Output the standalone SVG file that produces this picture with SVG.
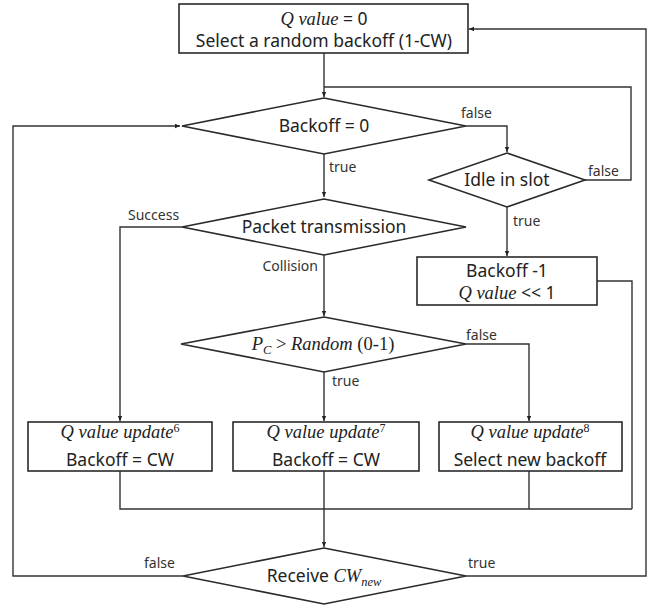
<svg xmlns="http://www.w3.org/2000/svg" width="651" height="605" viewBox="0 0 651 605">
<style>
.shape{fill:#fff;stroke:#2a2a2a;stroke-width:1.6}
.ln{fill:none;stroke:#333;stroke-width:1.4}
.arr{marker-end:url(#ah)}
.t{font-family:"Noto Sans","Liberation Sans",sans-serif;font-size:17.5px;fill:#222;text-anchor:middle}
.m{font-family:"Liberation Serif","DejaVu Serif",serif;font-style:italic;font-size:18.5px}
.mu{font-family:"Liberation Serif","DejaVu Serif",serif;font-style:normal;font-size:18.5px}
.m.s{font-size:12.5px}
.mu.s{font-size:12px}
.lb{font-family:"Noto Sans","Liberation Sans",sans-serif;font-size:14px;fill:#333}
</style>
<defs>
<marker id="ah" markerWidth="6" markerHeight="6" refX="5" refY="3" orient="auto" markerUnits="userSpaceOnUse">
<path d="M0,0.8 L5,3 L0,5.2 z" fill="#222"/>
</marker>
</defs>
<g id="connectors">
<path class="ln arr" d="M324,53 V97"/>
<path class="ln" d="M585,180 H631 V87 H324"/>
<path class="ln arr" d="M466,126 H507 V152"/>
<path class="ln arr" d="M324,154 V197"/>
<path class="ln arr" d="M507,207 V256"/>
<path class="ln" d="M597,281 H632 V509"/>
<path class="ln arr" d="M182,227 H120 V421"/>
<path class="ln arr" d="M324,255 V316"/>
<path class="ln arr" d="M466,344 H529 V421"/>
<path class="ln arr" d="M324,372 V421"/>
<path class="ln" d="M120,471 V509 H632"/>
<path class="ln" d="M529,471 V509"/>
<path class="ln" d="M324,471 V509"/>
<path class="ln arr" d="M324,509 V547"/>
<path class="ln arr" d="M183,576 H13 V126 H180"/>
<path class="ln arr" d="M466,576 H646 V29 H469"/>
<text class="lb" x="461" y="118">false</text>
<text class="lb" x="588" y="176">false</text>
<text class="lb" x="329" y="172">true</text>
<text class="lb" x="128" y="220">Success</text>
<text class="lb" x="513" y="226">true</text>
<text class="lb" x="318" y="271" text-anchor="end">Collision</text>
<text class="lb" x="466" y="340">false</text>
<text class="lb" x="332" y="386">true</text>
<text class="lb" x="144" y="568">false</text>
<text class="lb" x="468" y="568">true</text>
</g>
<g id="init">
<rect class="shape" x="179" y="4" width="289" height="49"/>
<text class="t" x="324" y="25"><tspan class="m">Q value</tspan> = 0</text>
<text class="t" x="324" y="47">Select a random backoff (1-CW)</text>
</g>
<g id="backoff0">
<polygon class="shape" points="324,98 466,126 324,154 182,126"/>
<text class="t" x="324" y="132">Backoff = 0</text>
</g>
<g id="idle">
<polygon class="shape" points="507,153 585,180 507,207 429,180"/>
<text class="t" x="507" y="186">Idle in slot</text>
</g>
<g id="packet">
<polygon class="shape" points="324,199 466,227 324,255 182,227"/>
<text class="t" x="324" y="233">Packet transmission</text>
</g>
<g id="decrement">
<rect class="shape" x="417" y="257" width="180" height="48"/>
<text class="t" x="507" y="277">Backoff -1</text>
<text class="t" x="507" y="299"><tspan class="m">Q value</tspan> &lt;&lt; 1</text>
</g>
<g id="pc">
<polygon class="shape" points="324,317 466,344 324,372 181,344"/>
<text class="t" x="323" y="350"><tspan class="m">P</tspan><tspan class="m s" dy="4">C</tspan><tspan class="mu" dy="-4"> &gt; </tspan><tspan class="m">Random</tspan><tspan class="mu"> (0-1)</tspan></text>
</g>
<g id="update6">
<rect class="shape" x="28" y="422" width="184" height="49"/>
<text class="t" x="120" y="438"><tspan class="m">Q value update</tspan><tspan class="mu s" dy="-6">6</tspan></text>
<text class="t" x="120" y="466">Backoff = CW</text>
</g>
<g id="update7">
<rect class="shape" x="233" y="422" width="186" height="49"/>
<text class="t" x="326" y="438"><tspan class="m">Q value update</tspan><tspan class="mu s" dy="-6">7</tspan></text>
<text class="t" x="326" y="466">Backoff = CW</text>
</g>
<g id="update8">
<rect class="shape" x="439" y="422" width="183" height="49"/>
<text class="t" x="530" y="438"><tspan class="m">Q value update</tspan><tspan class="mu s" dy="-6">8</tspan></text>
<text class="t" x="530" y="466">Select new backoff</text>
</g>
<g id="receive">
<polygon class="shape" points="324,548 466,576 324,604 183,576"/>
<text class="t" x="324" y="582">Receive <tspan class="m">CW</tspan><tspan class="m s" dy="4">new</tspan></text>
</g>
</svg>
